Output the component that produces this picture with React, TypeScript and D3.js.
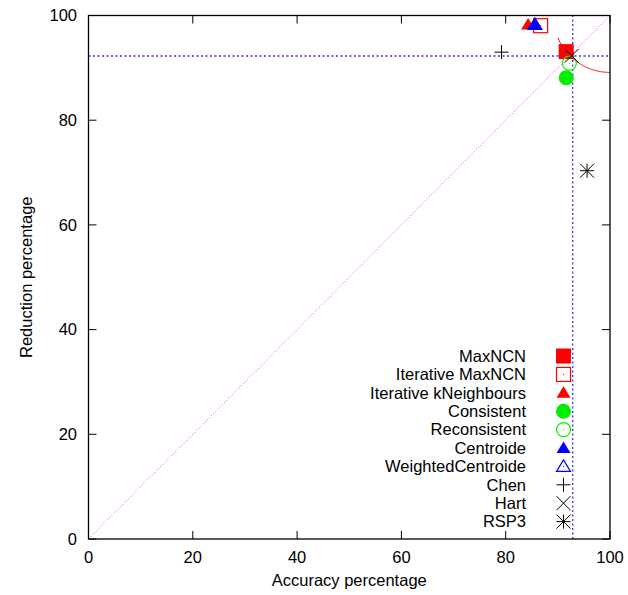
import React from "react";
import * as d3 from "d3";

const methods = ["MaxNCN", "Iterative MaxNCN", "Iterative kNeighbours", "Consistent", "Reconsistent", "Centroide", "WeightedCentroide", "Chen", "Hart", "RSP3"];
const accuracy = [91.6, 86.7, 84.3, 91.6, 92.2, 85.6, 85.6, 79.2, 92.65, 95.6];
const reduction = [93.1, 98.05, 98.3, 88.1, 90.9, 98.3, 98.3, 93.0, 92.3, 70.35];
const symbols = ["sqF", "sqO", "triF", "circF", "circO", "triF", "triO", "plus", "x", "star"];
const colors = ["#ff0000", "#ff0000", "#ff0000", "#00ee00", "#00ee00", "#0000ff", "#0000ff", "#000000", "#000000", "#000000"];
const xTicks = [0, 20, 40, 60, 80, 100];
const yTicks = [0, 20, 40, 60, 80, 100];
const refAccuracy = 92.85;
const refReduction = 92.26;

const W = 628, H = 595;
const x = d3.scaleLinear().domain([0, 100]).range([88.5, 610]);
const y = d3.scaleLinear().domain([0, 100]).range([539, 15.5]);
const FONT = "'Liberation Sans', Arial, sans-serif";
const FS = 16.5;

function Marker({ kind, cx, cy, color }: { kind: string; cx: number; cy: number; color: string }) {
  const s = 7;
  switch (kind) {
    case "sqF":
      return <rect x={cx - 7.5} y={cy - 7.5} width={15} height={15} fill={color} />;
    case "sqO":
      return (
        <g>
          <rect x={cx - 7} y={cy - 7} width={14} height={14} fill="none" stroke={color} strokeWidth={1.2} />
          <rect x={cx - 0.5} y={cy - 0.5} width={1} height={1} fill={color} />
        </g>
      );
    case "triF":
      return <path d={`M${cx},${cy - 6.5}L${cx + 7},${cy + 5}L${cx - 7},${cy + 5}Z`} fill={color} />;
    case "triO":
      return (
        <g>
          <path d={`M${cx},${cy - 6.5}L${cx + 7},${cy + 5}L${cx - 7},${cy + 5}Z`} fill="none" stroke={color} strokeWidth={1.2} />
          <rect x={cx - 0.5} y={cy - 0.5} width={1} height={1} fill={color} />
        </g>
      );
    case "circF":
      return <circle cx={cx} cy={cy} r={7.5} fill={color} />;
    case "circO":
      return (
        <g>
          <circle cx={cx} cy={cy} r={7} fill="none" stroke={color} strokeWidth={1.2} />
          <rect x={cx - 0.5} y={cy - 0.5} width={1} height={1} fill={color} />
        </g>
      );
    case "plus":
      return <path d={`M${cx - s},${cy}H${cx + s}M${cx},${cy - s}V${cy + s}`} stroke={color} strokeWidth={1} fill="none" />;
    case "x":
      return <path d={`M${cx - s},${cy - s}L${cx + s},${cy + s}M${cx - s},${cy + s}L${cx + s},${cy - s}`} stroke={color} strokeWidth={1} fill="none" />;
    case "star":
      return (
        <path
          d={`M${cx - s},${cy}H${cx + s}M${cx},${cy - s}V${cy + s}M${cx - s},${cy - s}L${cx + s},${cy + s}M${cx - s},${cy + s}L${cx + s},${cy - s}`}
          stroke={color}
          strokeWidth={1}
          fill="none"
        />
      );
  }
  return null;
}

export default function App() {
  const [x0, x1] = x.range();
  const [y0, y1] = y.range();
  // iso-distance arc centred at (100,100) through MaxNCN
  const r = Math.hypot(100 - accuracy[0], 100 - reduction[0]);
  const arcPts: [number, number][] = d3.range(90, 100.001, 0.1).map((a) => {
    const dx = 100 - a;
    return [a, 100 - Math.sqrt(Math.max(0, r * r - dx * dx))];
  });
  const arcLine = d3.line<[number, number]>().x((d) => x(d[0])).y((d) => y(d[1]));

  const legendTop = 356;
  const legendStep = 18.4;

  return (
    <svg width={W} height={H} style={{ position: "absolute", left: 0, top: 0, background: "#fff" }} fontFamily={FONT}>
      <defs>
        <clipPath id="plotclip">
          <rect x={x0} y={y1} width={x1 - x0} height={y0 - y1} />
        </clipPath>
      </defs>
      {/* diagonal */}
      <line x1={x(0)} y1={y(0)} x2={x(100)} y2={y(100)} stroke="#ff33ff" strokeWidth={1} strokeDasharray="1,2" />
      {/* reference lines */}
      <line x1={x0} x2={x1} y1={y(refReduction)} y2={y(refReduction)} stroke="#3333ff" strokeWidth={1.3} strokeDasharray="2,2.5" />
      <line x1={x(refAccuracy)} x2={x(refAccuracy)} y1={y0} y2={y1} stroke="#3333ff" strokeWidth={1.3} strokeDasharray="2,2.5" />
      {/* arc */}
      <path d={arcLine(arcPts) || ""} fill="none" stroke="#ff0000" strokeWidth={1} clipPath="url(#plotclip)" />
      {/* points */}
      {methods.map((m, i) => (
        <Marker key={m} kind={symbols[i]} cx={x(accuracy[i])} cy={y(reduction[i])} color={colors[i]} />
      ))}
      {/* frame */}
      <rect x={x0} y={y1} width={x1 - x0} height={y0 - y1} fill="none" stroke="#000" strokeWidth={1.3} />
      {xTicks.map((t) => (
        <g key={"x" + t}>
          <line x1={x(t)} x2={x(t)} y1={y0} y2={y0 - 8} stroke="#000" strokeWidth={1} />
          <line x1={x(t)} x2={x(t)} y1={y1} y2={y1 + 8} stroke="#000" strokeWidth={1} />
          <text x={x(t)} y={562.5} textAnchor="middle" fontSize={FS} fill="#000">{t}</text>
        </g>
      ))}
      {yTicks.map((t) => (
        <g key={"y" + t}>
          <line x1={x0} x2={x0 + 8} y1={y(t)} y2={y(t)} stroke="#000" strokeWidth={1} />
          <line x1={x1} x2={x1 - 8} y1={y(t)} y2={y(t)} stroke="#000" strokeWidth={1} />
          <text x={77} y={y(t) + 5.8} textAnchor="end" fontSize={FS} fill="#000">{t}</text>
        </g>
      ))}
      <text x={(x0 + x1) / 2} y={586} textAnchor="middle" fontSize={FS} fill="#000">Accuracy percentage</text>
      <text transform={`translate(32,${(y0 + y1) / 2}) rotate(-90)`} textAnchor="middle" fontSize={FS} fill="#000">Reduction percentage</text>
      {/* legend */}
      {methods.map((m, i) => (
        <g key={"leg" + m}>
          <text x={526} y={legendTop + i * legendStep + 5.8} textAnchor="end" fontSize={FS} fill="#000">{m}</text>
          <Marker kind={symbols[i]} cx={563.5} cy={legendTop + i * legendStep} color={colors[i]} />
        </g>
      ))}
    </svg>
  );
}
